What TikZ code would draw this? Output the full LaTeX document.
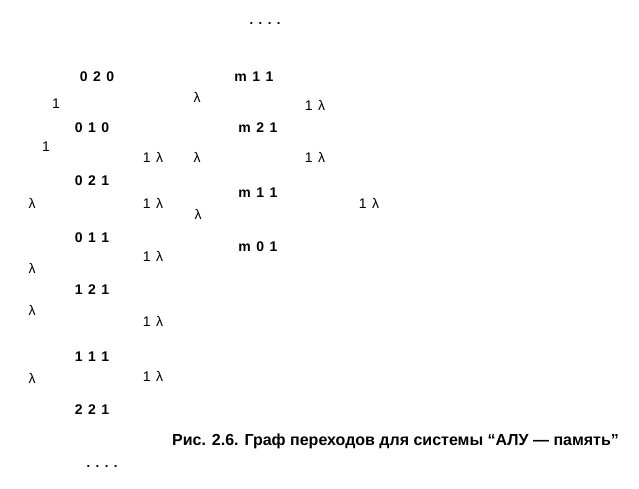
\documentclass[tikz,border=0pt]{standalone}
\usepackage{fontspec}
\setmainfont{Liberation Sans}
\newcommand{\gp}{\hspace{5.5pt}}
\begin{document}
\begin{tikzpicture}[x=1pt,y=-1pt,
  lbl/.style={inner sep=0pt,font=\fontsize{14}{16}\selectfont},
  st/.style={inner sep=0pt,font=\bfseries\fontsize{14}{16}\selectfont},
  dots/.style={inner sep=0pt,font=\bfseries\fontsize{13}{15}\selectfont}]
\useasboundingbox (0,0) rectangle (639,489);
\node[dots] (dtop) at (265,24) {.\gp.\gp.\gp.};
\node[st] (s020) at (97,77) {0\gp2\gp0};
\node[st] (ma) at (254,77) {m\gp1\gp1};
\node[lbl] (l1) at (197,97) {λ};
\node[lbl] (o1) at (56,104) {1};
\node[lbl] (l2) at (315,105) {1\gp λ};
\node[st] (s010) at (92,128) {0\gp1\gp0};
\node[st] (mb) at (258,128) {m\gp2\gp1};
\node[lbl] (o2) at (46,147) {1};
\node[lbl] (l3) at (153,157) {1\gp λ};
\node[lbl] (l4) at (197,157) {λ};
\node[lbl] (l5) at (315,157) {1\gp λ};
\node[st] (s021) at (92,181) {0\gp2\gp1};
\node[st] (mc) at (258,193) {m\gp1\gp1};
\node[lbl] (l6) at (32,203) {λ};
\node[lbl] (l7) at (153,203) {1\gp λ};
\node[lbl] (l8) at (369,203) {1\gp λ};
\node[lbl] (l9) at (198,214) {λ};
\node[st] (s011) at (92,238) {0\gp1\gp1};
\node[st] (md) at (258,247) {m\gp0\gp1};
\node[lbl] (l10) at (153,256) {1\gp λ};
\node[lbl] (l11) at (32,268) {λ};
\node[st] (s121) at (92,290) {1\gp2\gp1};
\node[lbl] (l12) at (32,310) {λ};
\node[lbl] (l13) at (153,321) {1\gp λ};
\node[st] (s111) at (92,357) {1\gp1\gp1};
\node[lbl] (l14) at (32,378) {λ};
\node[lbl] (l15) at (153,376) {1\gp λ};
\node[st] (s221) at (92,410) {2\gp2\gp1};
\node[inner sep=0pt,anchor=west,font=\bfseries\fontsize{16}{18}\selectfont] (cap) at (172,441) {Рис. 2.6. Граф переходов для системы “АЛУ — память”};
\node[dots] (dbot) at (102,467) {.\gp.\gp.\gp.};
\end{tikzpicture}
\end{document}
